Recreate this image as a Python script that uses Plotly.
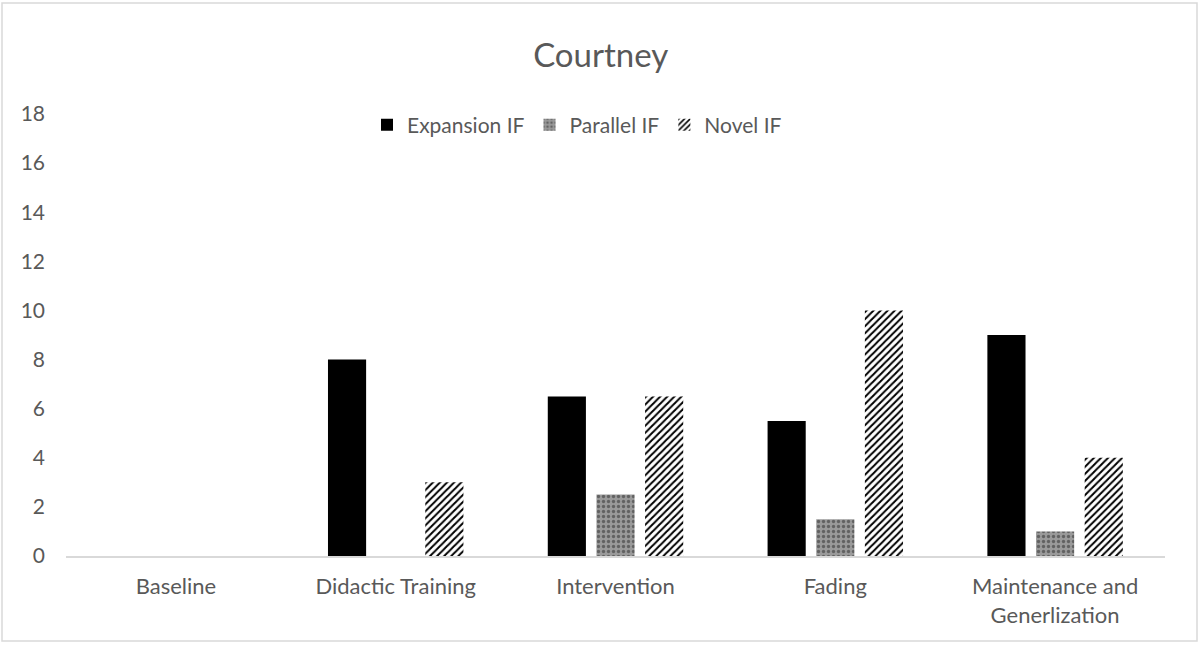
import plotly.graph_objects as go

# Phases of the study and the counts of each IF type
categories = ["Baseline", "Didactic Training", "Intervention", "Fading",
              "Maintenance and<br>Generlization"]
expansion_if = [0, 8, 6.5, 5.5, 9]
parallel_if = [0, 0, 2.5, 1.5, 1]
novel_if = [0, 3, 6.5, 10, 4]
y_ticks = [0, 2, 4, 6, 8, 10, 12, 14, 16, 18]

FONT = "Lato"
TEXT = "#595959"

fig = go.Figure()
fig.add_trace(go.Bar(
    name="Expansion IF", x=categories, y=expansion_if,
    marker=dict(color="#000000", line=dict(width=0)),
))
fig.add_trace(go.Bar(
    name="Parallel IF", x=categories, y=parallel_if,
    marker=dict(color="#8c8c8c", line=dict(width=0),
                pattern=dict(shape=".", fgcolor="#2a2a2a", bgcolor="#9a9a9a",
                             size=5, solidity=0.35)),
))
fig.add_trace(go.Bar(
    name="Novel IF", x=categories, y=novel_if,
    marker=dict(color="#000000", line=dict(width=0),
                pattern=dict(shape="/", fgcolor="#000000", bgcolor="#ffffff",
                             size=5, solidity=0.4, fillmode="replace")),
))

# chart border
L, R, T, B = 66, 34, 114, 94
pw, ph = 1199 - L - R, 650 - T - B
fig.add_shape(type="rect", xref="paper", yref="paper",
              x0=(2 - L) / pw, x1=(1197 - L) / pw,
              y0=(650 - B - 641) / ph, y1=(650 - B - 3) / ph,
              line=dict(color="#d9d9d9", width=1.5), fillcolor="rgba(0,0,0,0)",
              layer="below")

fig.update_layout(
    width=1199, height=650,
    margin=dict(l=L, r=R, t=T, b=B),
    paper_bgcolor="white", plot_bgcolor="white",
    barmode="group", bargap=0.336, bargroupgap=0.216,
    font=dict(family=FONT, color=TEXT, size=22),
    title=dict(text="Courtney", x=0.501, xanchor="center",
               yref="container", y=1 - 55 / 650, yanchor="middle",
               font=dict(family=FONT, size=33, color=TEXT)),
    legend=dict(orientation="h", x=(577 - L) / pw, xanchor="center",
                y=(650 - B - 125) / ph, yanchor="middle",
                font=dict(family=FONT, size=21, color=TEXT),
                bgcolor="rgba(0,0,0,0)", itemwidth=30, traceorder="normal"),
    showlegend=True,
)
fig.update_xaxes(showgrid=False, showline=True, linecolor="#d9d9d9", linewidth=1.5,
                 ticks="", tickfont=dict(family=FONT, size=22, color=TEXT),
                 ticklabelstandoff=10)
fig.update_yaxes(range=[0, 18], tickvals=y_ticks, showgrid=False, zeroline=False,
                 showline=False, ticks="", tickfont=dict(family=FONT, size=21, color=TEXT),
                 ticklabelstandoff=20)

fig.write_html("out.html")
